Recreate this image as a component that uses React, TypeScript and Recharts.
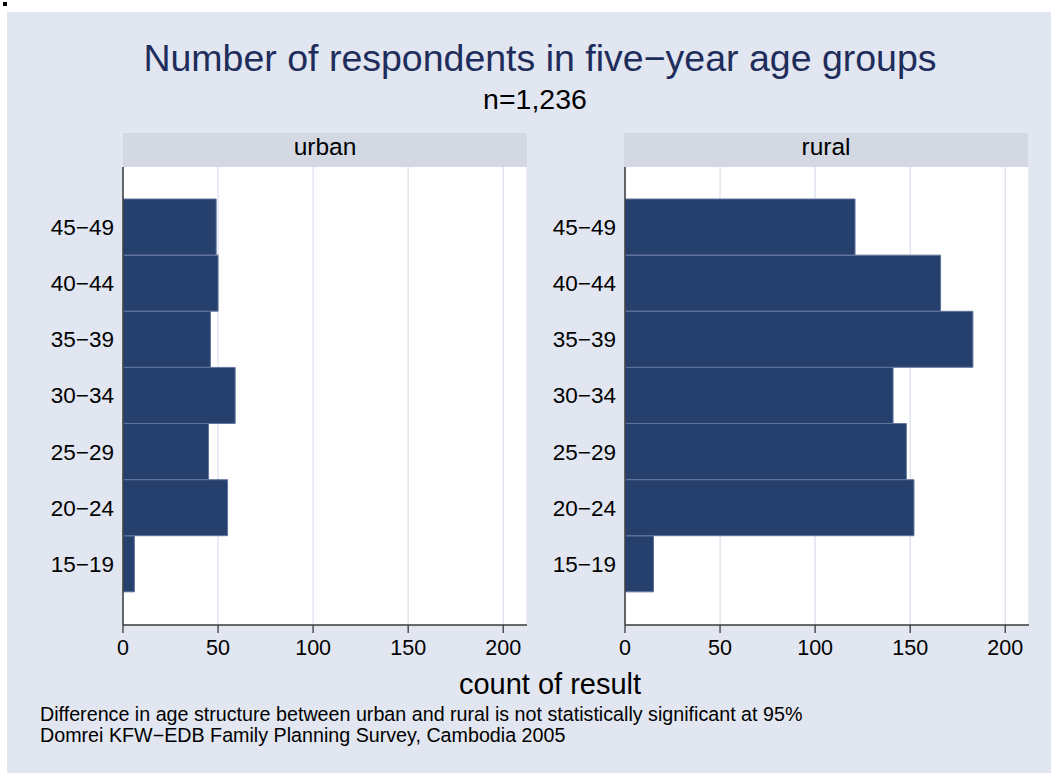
import { BarChart, Bar, XAxis, YAxis, CartesianGrid } from "recharts";

// five-year age groups, youngest first (the axis is reversed so 45−49 sits on top)
const ageGroups = ["15−19", "20−24", "25−29", "30−34", "35−39", "40−44", "45−49"];
const urbanCounts = [6, 55, 45, 59, 46, 50, 49];
const ruralCounts = [15, 152, 148, 141, 183, 166, 121];
const countTicks = [0, 50, 100, 150, 200];

const FONT = "'Liberation Sans', Arial, Helvetica, sans-serif";
const BG = "#e1e6f0";
const STRIP = "#d3d8e3";
const BAR = "#26406e";
const AXIS = "#3a3a3a";

type PanelProps = { counts: number[]; left: number };

const Panel = ({ counts, left }: PanelProps) => {
  const data = ageGroups.map((age, i) => ({ age, count: counts[i] }));
  return (
    <div style={{ position: "absolute", left, top: 167 }}>
      <BarChart
        width={507}
        height={498}
        data={data}
        layout="vertical"
        margin={{ top: 0, right: 0, bottom: 0, left: 0 }}
        barCategoryGap={0}
      >
        <CartesianGrid horizontal={false} stroke="#dbe1ef" strokeWidth={1.3} fill="#ffffff" fillOpacity={1} />
        <XAxis
          type="number"
          domain={[0, 212.5]}
          ticks={countTicks}
          allowDataOverflow
          height={40}
          tickSize={8}
          tickMargin={7}
          axisLine={{ stroke: AXIS, strokeWidth: 1.3 }}
          tickLine={{ stroke: AXIS, strokeWidth: 1.3 }}
          tick={{ fill: "#000", fontSize: 21.5, fontFamily: FONT }}
        />
        <YAxis
          type="category"
          dataKey="age"
          reversed
          width={103}
          padding={{ top: 32, bottom: 33 }}
          tickLine={false}
          tickSize={0}
          tickMargin={9}
          axisLine={{ stroke: AXIS, strokeWidth: 1.5 }}
          tick={{ fill: "#000", fontSize: 22.5, fontFamily: FONT }}
        />
        <Bar dataKey="count" fill={BAR} stroke="#62759c" strokeWidth={1} isAnimationActive={false} />
      </BarChart>
    </div>
  );
};

const App = () => {
  return (
    <div style={{ position: "absolute", left: 0, top: 0, width: 1051, height: 773, fontFamily: FONT }}>
      <svg width={1051} height={773} style={{ position: "absolute", left: 0, top: 0 }}>
        <rect x={3} y={2} width={4} height={4} fill="#000" />
        <rect x={7} y={12} width={1044} height={761} fill={BG} />
        <text x={540} y={71} textAnchor="middle" fontSize={37.5} fill="#1e2d5b" fontFamily={FONT}>
          Number of respondents in five−year age groups
        </text>
        <text x={535} y={109} textAnchor="middle" fontSize={28.5} fill="#000" fontFamily={FONT}>
          n=1,236
        </text>
        <rect x={123} y={133} width={404} height={34} fill={STRIP} />
        <rect x={624} y={133} width={404} height={34} fill={STRIP} />
        <text x={325} y={155} textAnchor="middle" fontSize={24.5} fill="#000" fontFamily={FONT}>
          urban
        </text>
        <text x={826} y={155} textAnchor="middle" fontSize={24.5} fill="#000" fontFamily={FONT}>
          rural
        </text>
        <text x={550} y={694} textAnchor="middle" fontSize={29} fill="#000" fontFamily={FONT}>
          count of result
        </text>
        <text x={40} y={721} fontSize={19.7} fill="#000" fontFamily={FONT}>
          Difference in age structure between urban and rural is not statistically significant at 95%
        </text>
        <text x={40} y={742} fontSize={19.7} fill="#000" fontFamily={FONT}>
          Domrei KFW−EDB Family Planning Survey, Cambodia 2005
        </text>
      </svg>
      <Panel counts={urbanCounts} left={20} />
      <Panel counts={ruralCounts} left={522} />
    </div>
  );
};

export default App;
